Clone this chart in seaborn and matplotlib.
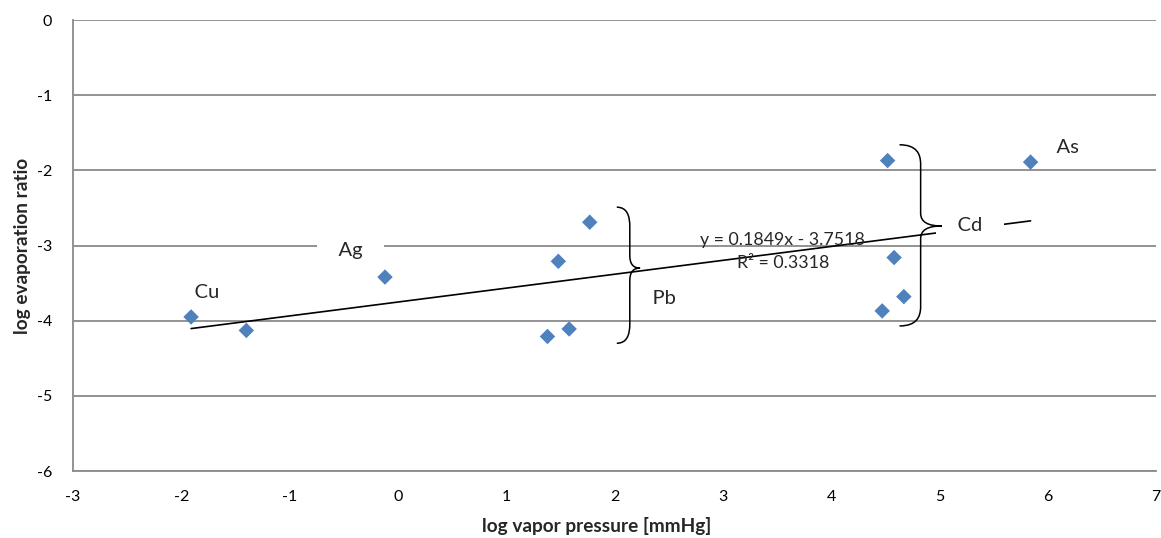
import numpy as np
import pandas as pd
import seaborn as sns
import matplotlib.pyplot as plt
from matplotlib.path import Path
from matplotlib.patches import PathPatch

# Measured points: vapour pressure vs. evaporation ratio (both log10)
log_vapor_pressure = [-1.91, -1.40, -0.12, 1.38, 1.48, 1.58, 1.77,
                      4.47, 4.52, 4.58, 4.67, 5.84]
log_evaporation_ratio = [-3.95, -4.13, -3.42, -4.21, -3.21, -4.11, -2.69,
                         -3.87, -1.87, -3.16, -3.68, -1.89]

# Linear trend line as stated on the chart
slope = 0.1849
intercept = -3.7518
r_squared = 0.3318

# Element names and where they are written
element_labels = ["Cu", "Ag", "Pb", "Cd", "As"]
label_x = [-1.76, -0.44, 2.46, 5.28, 6.18]
label_y = [-3.62, -3.06, -3.70, -2.73, -1.70]

x_ticks = list(range(-3, 8))
y_ticks = list(range(-6, 1))

sns.set_theme(style="white")
plt.rcParams["font.family"] = ["Lato", "DejaVu Sans"]
plt.rcParams["axes.unicode_minus"] = False

GRID = "#8a8a8a"
BLUE = "#4F81BD"

fig = plt.figure(figsize=(11.61, 5.38), dpi=100)
ax = fig.add_axes([0.0629, 0.1245, 0.9330, 0.8383])

df = pd.DataFrame({"x": log_vapor_pressure, "y": log_evaporation_ratio})

# Trend line over the range of the data
x_fit = np.array([min(log_vapor_pressure), max(log_vapor_pressure)])
fit = pd.DataFrame({"x": x_fit, "y": slope * x_fit + intercept})
sns.lineplot(data=fit, x="x", y="y", ax=ax, color="black", linewidth=1.2,
             zorder=2)

sns.scatterplot(data=df, x="x", y="y", ax=ax, marker="D", s=62, color=BLUE,
                edgecolor="none", linewidth=0, zorder=3)

ax.set_xlim(-3, 7)
ax.set_ylim(-6, 0)
ax.set_xticks(x_ticks)
ax.set_yticks(y_ticks)
ax.yaxis.grid(True, color=GRID, linewidth=1.3)
ax.xaxis.grid(False)
ax.set_axisbelow(True)

for side in ["top", "right"]:
    ax.spines[side].set_visible(False)
for side in ["left", "bottom"]:
    ax.spines[side].set_color(GRID)
    ax.spines[side].set_linewidth(1.3)

ax.tick_params(axis="both", direction="out", length=4, width=1.1,
               color=GRID, labelsize=11.5, labelcolor="black")
ax.tick_params(axis="x", pad=10)
ax.tick_params(axis="y", pad=11)

ax.set_xlabel("log vapor pressure [mmHg]", fontsize=13.7, fontweight="bold")
ax.set_ylabel("log evaporation ratio", fontsize=13.7, fontweight="bold",
              labelpad=4)
ax.xaxis.set_label_coords(0.483, -0.103)

# Element labels sit on white text boxes
for name, lx, ly in zip(element_labels, label_x, label_y):
    ax.text(lx, ly, f"    {name}    ", fontsize=14.5, ha="center",
            va="center", zorder=4,
            bbox=dict(boxstyle="square,pad=0.05", facecolor="white",
                      edgecolor="none"))

ax.text(3.553, -2.925, f"y = {slope}x - {abs(intercept)}", fontsize=12.8,
        ha="center", va="center", zorder=4)
ax.text(3.553, -3.23, f"R² = {r_squared}", fontsize=12.8,
        ha="center", va="center", zorder=4)


def curly_brace(ax, x_end, x_mid, x_tip, y_top, y_tip, y_bot,
                r_end=0.26, r_tip=0.17):
    """Right-facing curly brace spanning y_top..y_bot with its point at y_tip."""
    verts = [
        (x_end, y_top),
        (x_end + 0.8 * (x_mid - x_end), y_top), (x_mid, y_top - 0.45 * r_end),
        (x_mid, y_top - r_end),
        (x_mid, y_tip + r_tip),
        (x_mid, y_tip + 0.3 * r_tip), (x_mid + 0.35 * (x_tip - x_mid), y_tip),
        (x_tip, y_tip),
        (x_mid + 0.35 * (x_tip - x_mid), y_tip), (x_mid, y_tip - 0.3 * r_tip),
        (x_mid, y_tip - r_tip),
        (x_mid, y_bot + r_end),
        (x_mid, y_bot + 0.45 * r_end), (x_end + 0.8 * (x_mid - x_end), y_bot),
        (x_end, y_bot),
    ]
    codes = [Path.MOVETO,
             Path.CURVE4, Path.CURVE4, Path.CURVE4,
             Path.LINETO,
             Path.CURVE4, Path.CURVE4, Path.CURVE4,
             Path.CURVE4, Path.CURVE4, Path.CURVE4,
             Path.LINETO,
             Path.CURVE4, Path.CURVE4, Path.CURVE4]
    ax.add_patch(PathPatch(Path(verts, codes), facecolor="none",
                           edgecolor="black", linewidth=1.1, zorder=5))


# Pb group and Cd group
curly_brace(ax, 2.02, 2.14, 2.235, -2.49, -3.30, -4.30)
curly_brace(ax, 4.63, 4.825, 5.02, -1.66, -2.74, -4.07)

fig.savefig("out.png", dpi=100, facecolor="white")
